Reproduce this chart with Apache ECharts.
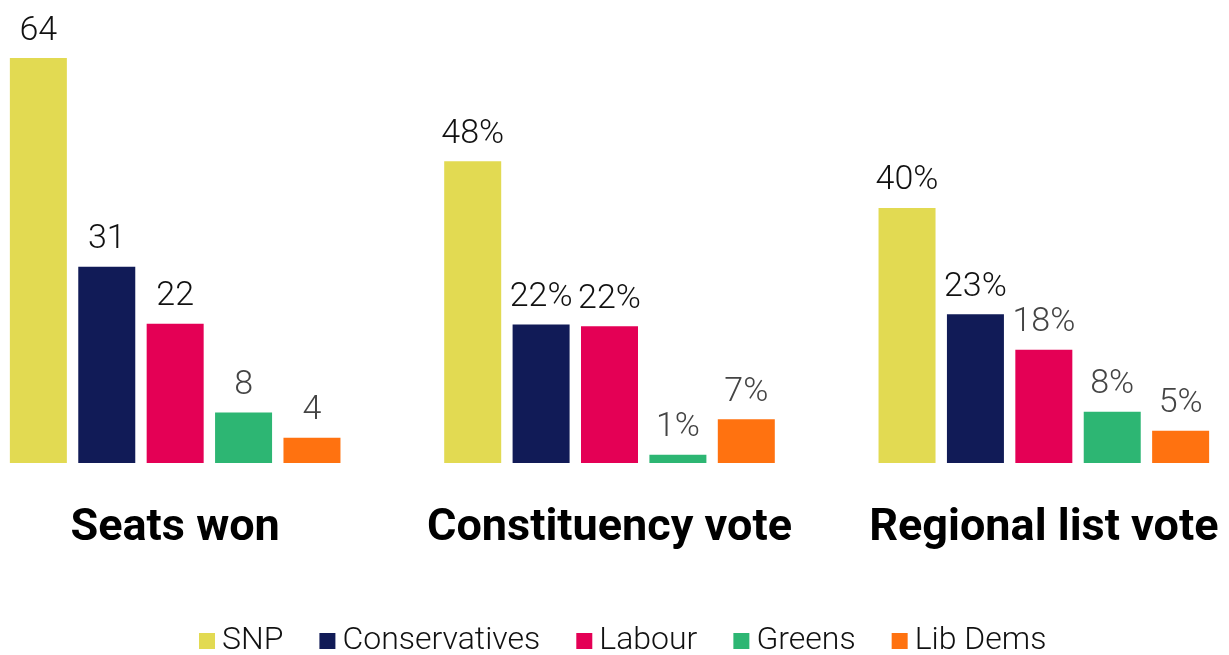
<!DOCTYPE html>
<html><head><meta charset="utf-8">
<script src="https://cdn.jsdelivr.net/npm/echarts@6/dist/echarts.min.js"></script>
<style>html,body{margin:0;padding:0;background:#fff;overflow:hidden}#wrap{position:relative;width:1229px;height:655px;overflow:hidden}#c{position:absolute;left:-42px;top:0;width:1303px;height:655px}</style>
</head><body><div id="wrap"><div id="c"></div></div>
<script>
const categories = ["Seats won", "Constituency vote", "Regional list vote"];
const parties = ["SNP", "Conservatives", "Labour", "Greens", "Lib Dems"];
const colors = ["#E2DA52", "#111B57", "#E40055", "#2DB673", "#FF7210"];
const snp = [64, 47.7, 40.3];
const conservatives = [31, 21.9, 23.5];
const labour = [22, 21.6, 17.9];
const greens = [8, 1.3, 8.1];
const libDems = [4, 6.9, 5.1];
const labelText = [
  ["64", "48%", "40%"],
  ["31", "22%", "23%"],
  ["22", "22%", "18%"],
  ["8", "1%", "8%"],
  ["4", "7%", "5%"]
];
const values = [snp, conservatives, labour, greens, libDems];

const chart = echarts.init(document.getElementById('c'));
chart.setOption({
  animation: false,
  textStyle: {fontFamily: 'Roboto'},
  grid: {left: 0, right: 0, top: 58, bottom: 192},
  legend: {
    top: 620, left: 236, itemWidth: 16, itemHeight: 16, itemGap: 36,
    icon: 'rect',
    textStyle: {fontSize: 32, color: '#111', fontFamily: 'Roboto', fontWeight: 300, padding: [0, 0, 0, 2]},
    data: parties
  },
  xAxis: {
    type: 'category', data: categories,
    axisLine: {show: false}, axisTick: {show: false},
    axisLabel: {interval: 0, hideOverlap: false, fontSize: 45, fontWeight: 'bold', color: '#000', margin: 43, fontFamily: 'Roboto'}
  },
  yAxis: {type: 'value', min: 0, max: 64, show: false, splitLine: {show: false}},
  series: parties.map((p, i) => ({
    name: p, type: 'bar', barWidth: 57, barGap: '20%',
    itemStyle: {color: colors[i]},
    label: {
      show: true, position: 'top', distance: 10, fontSize: 34, fontWeight: 300,
      formatter: (params) => labelText[i][params.dataIndex]
    },
    data: values[i].map(v => ({value: v, label: {color: v >= 20 ? '#111' : '#444'}}))
  }))
});
</script></body></html>
